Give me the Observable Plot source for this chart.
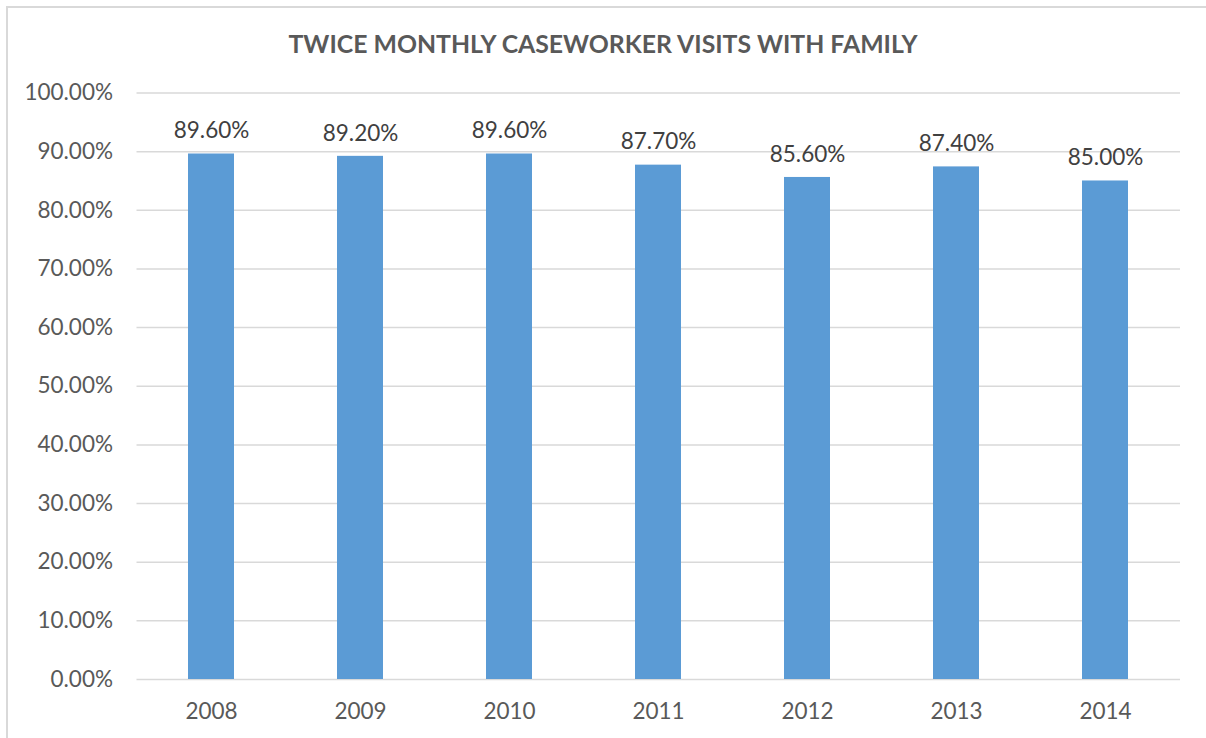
<!DOCTYPE html>
<html><head><meta charset="utf-8">
<script src="https://cdn.jsdelivr.net/npm/d3@7"></script>
<script src="https://cdn.jsdelivr.net/npm/@observablehq/plot@0.6"></script>
<style>
body{margin:0;background:#fff;}
#wrap{position:relative;width:1206px;height:738px;overflow:hidden;background:#fff;}
#frame{position:absolute;left:6px;top:6px;width:1230px;height:770px;border:2px solid #d9d9d9;box-sizing:border-box;}
#title{position:absolute;left:0;top:29px;width:1206px;text-align:center;font:bold 24.8px Lato, sans-serif;color:#595959;}
#chart{position:absolute;left:0;top:0;}
</style></head>
<body>
<div id="wrap"><div id="frame"></div><div id="title">TWICE MONTHLY CASEWORKER VISITS WITH FAMILY</div><div id="chart"></div></div>
<script>
const years = ["2008","2009","2010","2011","2012","2013","2014"];
const rates = [0.896,0.892,0.896,0.877,0.856,0.874,0.850];
const yTicks = [0,0.1,0.2,0.3,0.4,0.5,0.6,0.7,0.8,0.9,1.0];
const data = years.map((y,i)=>({year:y, rate:rates[i]}));
const pct = d => (d*100).toFixed(2) + "%";
const chart = Plot.plot({
  width: 1206, height: 738,
  marginTop: 92.5, marginBottom: 59, marginLeft: 136.5, marginRight: 26,
  style: {fontFamily: "Lato, sans-serif", fontSize: "22.5px", color: "#595959", background: "transparent"},
  x: {domain: years, paddingInner: 0.69, paddingOuter: 0.345, align: 0.5, label: null, tickSize: 0, tickPadding: 24},
  y: {domain: [0,1], ticks: yTicks, tickFormat: pct, label: null, tickSize: 0, tickPadding: 24},
  marks: [
    Plot.ruleY(yTicks, {stroke: "#d9d9d9", strokeWidth: 1.5}),
    Plot.barY(data, {x: "year", y: "rate", fill: "#5b9bd5"}),
    Plot.text(data, {x: "year", y: "rate", text: d => pct(d.rate), dy: -23, fill: "#404040", fontSize: 22.5})
  ]
});
document.getElementById("chart").appendChild(chart);
</script>
</body></html>
